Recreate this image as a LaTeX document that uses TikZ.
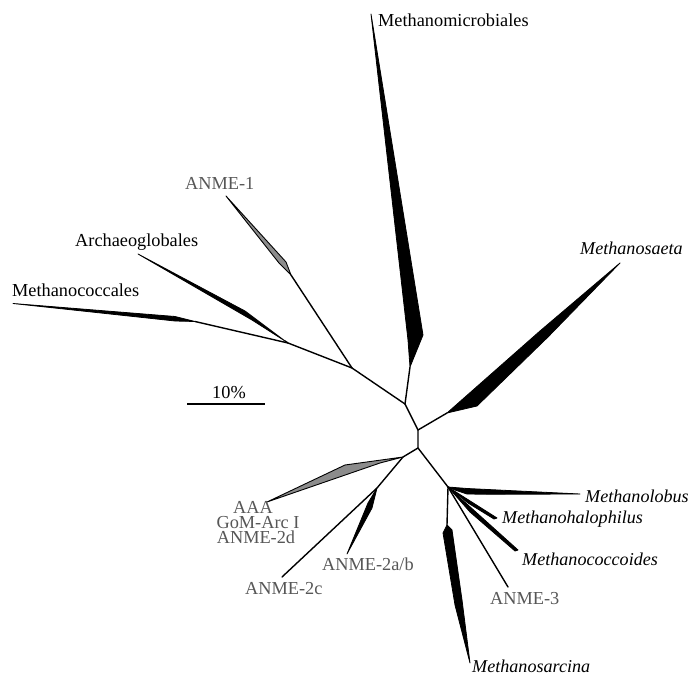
\documentclass[tikz,border=0pt]{standalone}
\usepackage{fontspec}
\setmainfont{Liberation Serif}
\begin{document}
\begin{tikzpicture}[x=1pt,y=-1pt,
  branch/.style={line width=1.4pt, line join=round, line cap=round},
  clade/.style={fill=black, draw=black, line width=0.8pt, line join=round},
  gclade/.style={fill=black!45, draw=black, line width=0.9pt, line join=round},
  lab/.style={inner sep=0pt, anchor=base west, font=\fontsize{18.3}{20}\selectfont},
  glab/.style={lab, text=black!66},
  ilab/.style={lab, font=\fontsize{18.1}{20}\selectfont\itshape}]
\useasboundingbox (0,0) rectangle (691,676);
\fill[white] (0,0) rectangle (691,676);

% internal nodes
\coordinate (N1) at (405,404);
\coordinate (N2) at (418,430);
\coordinate (N3) at (418,448);
\coordinate (N4) at (448,487);
\coordinate (NA) at (352,368);
\coordinate (NB) at (288,343);
\coordinate (NC) at (403,457);
\coordinate (ND) at (377,488);

% clade bases / tips
\coordinate (mmb) at (410,367);
\coordinate (mmt) at (371,14);
\coordinate (msb) at (447,413);
\coordinate (mst) at (620,263);
\coordinate (a1b) at (291,275);
\coordinate (a1t) at (226,196);
\coordinate (arb) at (285,341);
\coordinate (art) at (138,254);
\coordinate (mcb) at (195,321.5);
\coordinate (mct) at (13,303.5);
\coordinate (aat) at (267,502);
\coordinate (abt) at (347,554);
\coordinate (a2c) at (282,577);
\coordinate (mlt) at (580,494);
\coordinate (mht) at (497,518);
\coordinate (mot) at (518,550);
\coordinate (a3t) at (508,587);
\coordinate (mrb) at (447,525);
\coordinate (mrt) at (470,663);

% branches
\draw[branch] (N1) -- (N2) -- (N3) -- (N4);
\draw[branch] (N1) -- (mmb);
\draw[branch] (N2) -- (msb);
\draw[branch] (N1) -- (NA) -- (NB) -- (mcb);
\draw[branch] (NA) -- (a1b);
\draw[branch] (NB) -- (arb);
\draw[branch] (N3) -- (NC) -- (ND) -- (a2c);
\draw[branch] (N4) -- (a3t);
\draw[branch] (N4) -- (mrb);

% collapsed clades
\draw[clade] (mmb) -- (423,335) -- (mmt) -- (408,340) -- cycle;
\draw[clade] (msb) -- (540,331) -- (mst) -- (548,337) -- (477,406) -- cycle;
\draw[gclade] (a1b) -- (279,263) -- (a1t) -- (286,262) -- cycle;
\draw[clade] (arb) -- (245,311) -- (art) -- (252,320) -- cycle;
\draw[clade] (mcb) -- (175,316.5) -- (mct) -- (175,321) -- cycle;
\draw[gclade] (NC) -- (345,465) -- (aat) -- (380,463) -- cycle;
\draw[clade] (ND) -- (372,508) -- (abt) -- (368,503) -- cycle;
\draw[clade] (N4) -- (467,488.5) -- (mlt) -- (490,494.3) -- (467,494) -- (455,490) -- cycle;
\draw[clade] (N4) -- (mht) -- (494,519) -- (468,503) -- cycle;
\draw[clade] (N4) -- (mot) -- (515,551) -- (470,512) -- cycle;
\draw[clade] (mrb) -- (443,533) -- (455,605) -- (mrt) -- (462,600) -- (452,530) -- cycle;

% labels
\node[lab]  (Lmm) at (378,27)  {Methanomicrobiales};
\node[glab] (La1) at (185,190) {ANME-1};
\node[lab]  (Lar) at (75,247)  {Archaeoglobales};
\node[lab]  (Lmc) at (12,297)  {Methanococcales};
\node[ilab] (Lms) at (580,255) {Methanosaeta};
\node[ilab] (Lml) at (585,502) {Methanolobus};
\node[ilab] (Lmh) at (502,523) {Methanohalophilus};
\node[ilab] (Lmo) at (522,565) {Methanococcoides};
\node[glab] (La3) at (490,604) {ANME-3};
\node[ilab] (Lmr) at (472,672) {Methanosarcina};
\node[glab, anchor=base] (Laa) at (253,513) {AAA};
\node[glab, anchor=base] (Lgo) at (258,528) {GoM-Arc I};
\node[glab, anchor=base] (La2d) at (256,543) {ANME-2d};
\node[glab] (Lab) at (322,570) {ANME-2a/b};
\node[glab] (La2c) at (245,594) {ANME-2c};

% scale bar
\node[lab] (Lsc) at (212,398) {10\%};
\coordinate (sb1) at (187,404);
\coordinate (sb2) at (265,404);
\draw[line width=1.8pt] (sb1) -- (sb2);
\end{tikzpicture}
\end{document}
